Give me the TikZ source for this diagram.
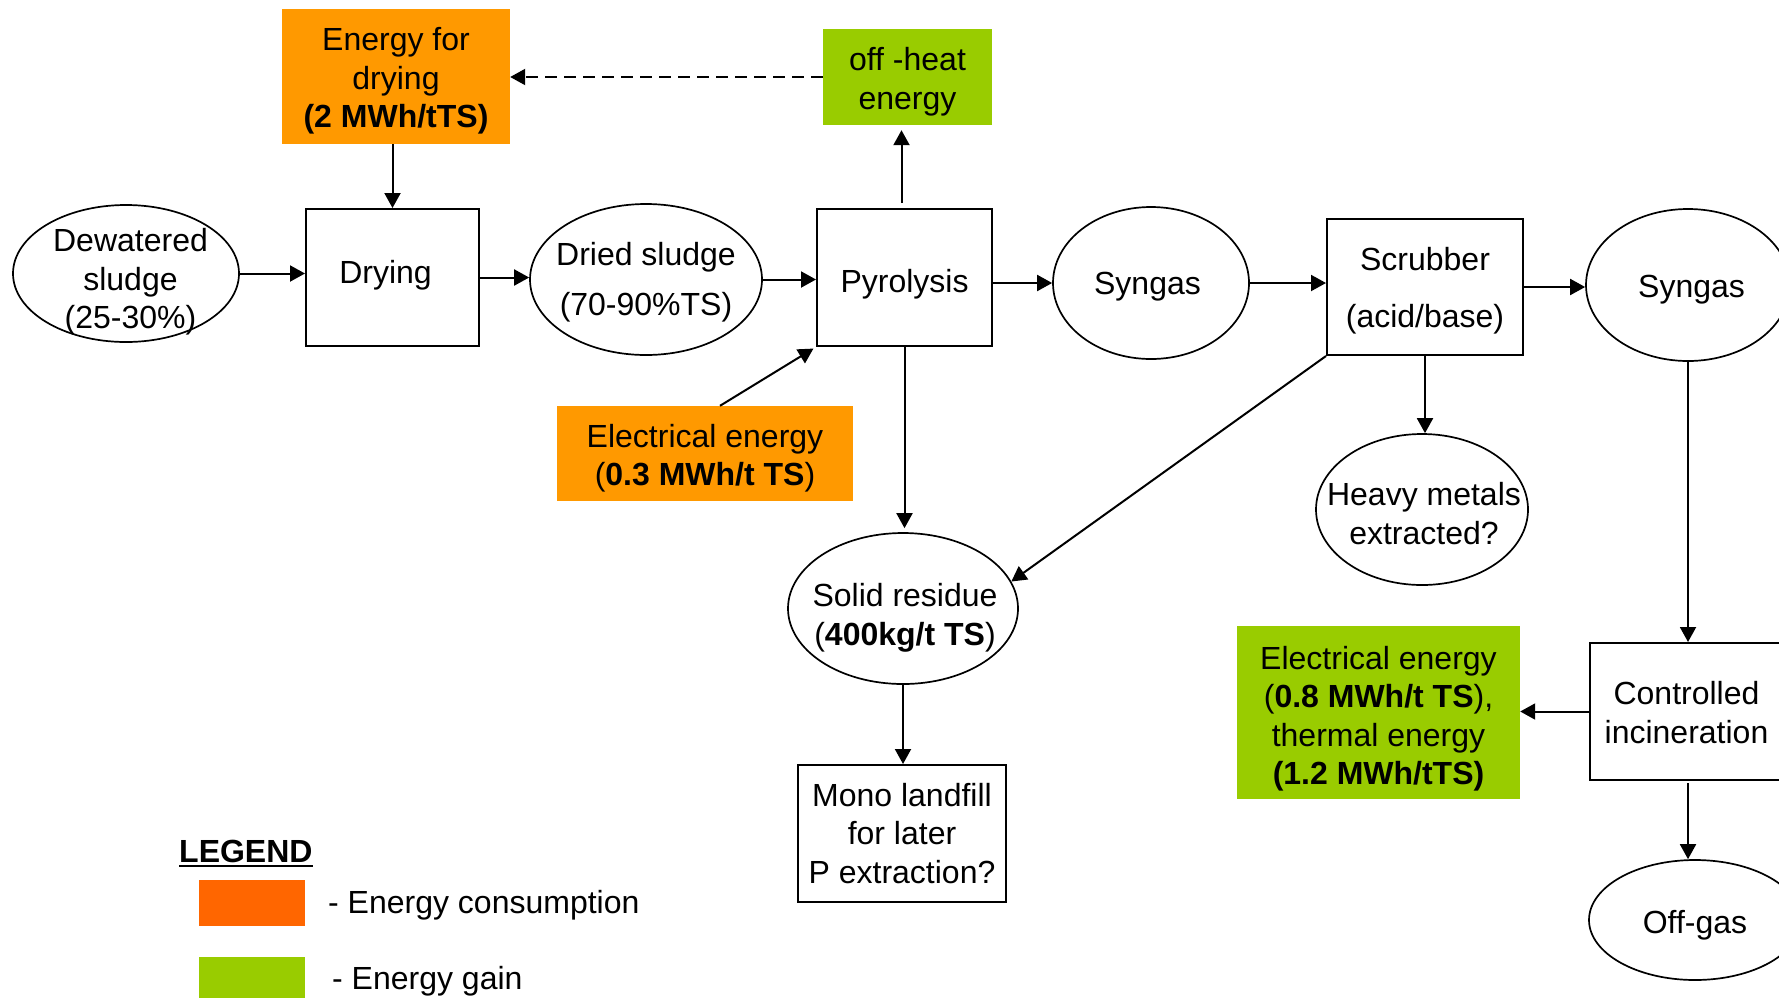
\documentclass[tikz,border=0pt]{standalone}
\usepackage{fontspec}
\setmainfont{Liberation Sans}
\usetikzlibrary{shapes.geometric,arrows.meta}
\definecolor{engorange}{HTML}{FF9900}
\definecolor{enggreen}{HTML}{99CC00}
\definecolor{legorange}{HTML}{FF6600}
\begin{document}
\begin{tikzpicture}[x=1pt,y=-1pt,
  every node/.style={font=\fontsize{32}{38.5}\selectfont, align=center, inner sep=0pt},
  box/.style={draw, line width=2pt, rectangle},
  oval/.style={draw, line width=1.7pt, ellipse},
  arr/.style={line width=2pt, -{Triangle[length=15pt,width=16pt]}},
]
\useasboundingbox (0,0) rectangle (1779,997);
\clip (0,0) rectangle (1779,997);

% energy boxes
\node[fill=engorange, minimum width=228pt, minimum height=135pt] (en1) at (396,76.5) {};
\node (en1t) at ([yshift=-4.5pt]en1.center) {Energy for\\drying\\\textbf{(2 MWh/tTS)}};
\node[fill=enggreen, minimum width=169pt, minimum height=96pt] (heat) at (907.5,77) {};
\node (heatt) at ([yshift=-4.5pt]heat.center) {off -heat\\energy};
\node[fill=engorange, minimum width=296pt, minimum height=95pt] (elec) at (705,453.5) {};
\node (elect) at ([yshift=-4.5pt]elec.center) {Electrical energy\\(\textbf{0.3 MWh/t TS})};
\node[fill=enggreen, minimum width=283pt, minimum height=173pt] (gain) at (1378.5,712.5) {};
\node (gaint) at ([yshift=-6pt]gain.center) {Electrical energy\\(\textbf{0.8 MWh/t TS}),\\thermal energy\\\textbf{(1.2 MWh/tTS)}};

% process row
\node[oval, minimum width=226pt, minimum height=137pt] (dew) at (126,273.5) {};
\node (dewt) at ([xshift=4.5pt,yshift=-8.5pt]dew.center) {Dewatered\\sludge\\(25-30\%)};
\node[box, minimum width=173pt, minimum height=137pt] (dry) at (392.5,277.5) {};
\node (dryt) at ([xshift=-7pt,yshift=2.5pt]dry.center) {Drying};
\node[oval, minimum width=232pt, minimum height=151pt] (dried) at (646,279.5) {};
\node (driedt) at ([yshift=-2.5pt]dried.center) {Dried sludge\\[12pt](70-90\%TS)};
\node[box, minimum width=175pt, minimum height=137pt] (pyro) at (904.5,277.5) {};
\node (pyrot) at ([yshift=-7pt]pyro.center) {Pyrolysis};
\node[oval, minimum width=196pt, minimum height=152pt] (syn1) at (1151,283) {};
\node (syn1t) at ([xshift=-3.5pt,yshift=-3.5pt]syn1.center) {Syngas};
\node[box, minimum width=196pt, minimum height=136pt] (scrub) at (1425,287) {};
\node (scrubt) at ([yshift=-3.5pt]scrub.center) {Scrubber\\[18pt](acid/base)};
\node[oval, minimum width=204pt, minimum height=152pt] (syn2) at (1688,285) {};
\node (syn2t) at ([xshift=3.5pt,yshift=-4.5pt]syn2.center) {Syngas};

% lower part
\node[oval, minimum width=230pt, minimum height=151pt] (solid) at (903,608.5) {};
\node (solidt) at ([xshift=2pt,yshift=-9.5pt]solid.center) {Solid residue\\(\textbf{400kg/t TS})};
\node[oval, minimum width=212pt, minimum height=151pt] (heavy) at (1422,509.5) {};
\node (heavyt) at ([xshift=2pt,yshift=-4pt]heavy.center) {Heavy metals\\extracted?};
\node[box, minimum width=208pt, minimum height=137pt] (mono) at (902,833.5) {};
\node (monot) at (mono.center) {Mono landfill\\for later\\P extraction?};
\node[box, minimum width=200pt, minimum height=137pt] (ctrl) at (1690,711.5) {};
\node (ctrlt) at ([xshift=-3.5pt,yshift=-1pt]ctrl.center) {Controlled\\incineration};
\node[oval, minimum width=212pt, minimum height=120pt] (off) at (1695,920) {};
\node (offt) at ([yshift=-5.5pt]off.center) {Off-gas};

% arrows
\draw[arr] (dew.east) -- (dew.east -| dry.west);
\draw[arr] (dry.east) -- (dry.east -| dried.west);
\draw[arr] (dried.east) -- (dried.east -| pyro.west);
\draw[arr] (pyro.east |- syn1.west) -- (syn1.west);
\draw[arr] (syn1.east) -- (syn1.east -| scrub.west);
\draw[arr] (scrub.east) -- (scrub.east -| syn2.west);
\draw[arr] (en1.south -| dry.north) -- (dry.north);
\draw[arr, dash pattern=on 12pt off 7pt] (heat.west) -- (heat.west -| en1.east);
\draw[arr, shorten <=5pt, shorten >=5pt] ([xshift=-3pt]pyro.north) -- ([xshift=-3pt]pyro.north |- heat.south);
\draw[arr, shorten >=3pt] ([xshift=15pt]elec.north) -- (pyro.south west);
\draw[arr, shorten >=4pt] (pyro.south) -- (pyro.south |- solid.north);
\draw[arr] (scrub.south west) -- (solid.14);
\draw[arr] (scrub.south) -- (scrub.south |- heavy.north);
\draw[arr] (syn2.south) -- (syn2.south |- ctrl.north);
\draw[arr] (ctrl.west) -- (ctrl.west -| gain.east);
\draw[arr, shorten <=2pt] (ctrl.south -| syn2.south) -- (off.north -| syn2.south);
\draw[arr] (solid.south) -- (solid.south |- mono.north);

% legend
\node[anchor=west] (leg) at (179,851) {\textbf{LEGEND}};
\draw[line width=2.5pt] ([yshift=-4pt]leg.base west) -- ([yshift=-4pt]leg.base east);
\node[fill=legorange, minimum width=106pt, minimum height=46pt] (sw1) at (252,903) {};
\node[anchor=west] (sw1t) at (328,905) {- Energy consumption};
\node[fill=enggreen, minimum width=106pt, minimum height=46pt] (sw2) at (252,980) {};
\node[anchor=west] (sw2t) at (332,981) {- Energy gain};
\end{tikzpicture}
\end{document}
